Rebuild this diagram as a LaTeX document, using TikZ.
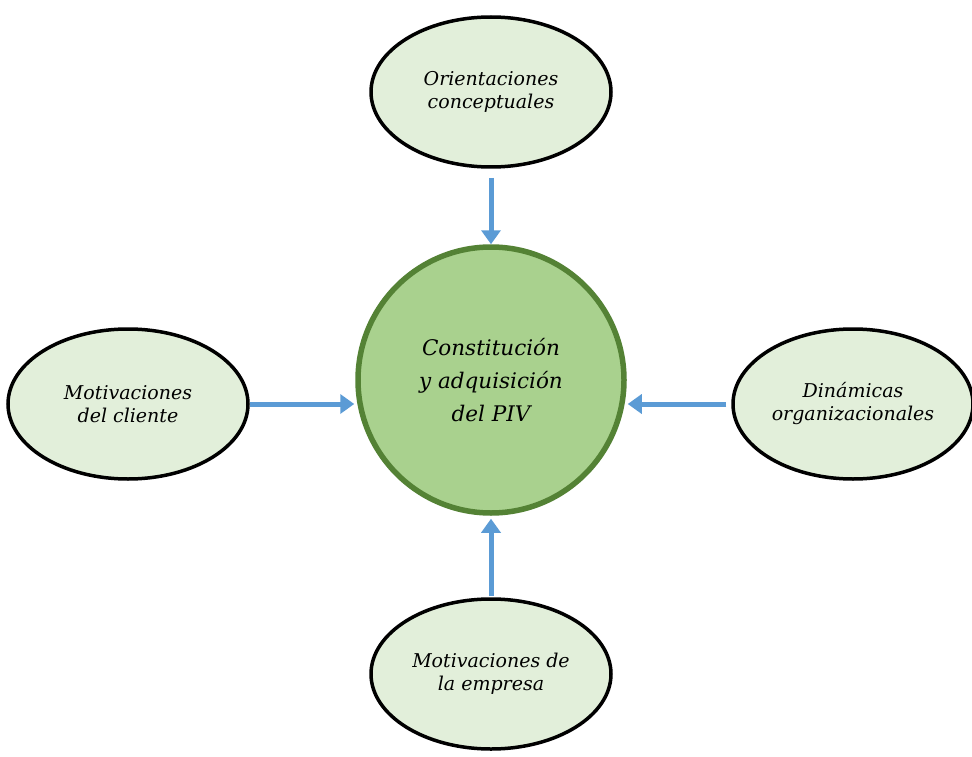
\documentclass[tikz,border=0pt]{standalone}
\usepackage{fontspec}
\setmainfont{DejaVu Serif}
\usetikzlibrary{shapes.geometric}
\usetikzlibrary{arrows.meta}
\definecolor{leafline}{HTML}{548235}
\definecolor{leaffill}{HTML}{A9D18E}
\definecolor{palefill}{HTML}{E2EFDA}
\definecolor{flowblue}{HTML}{5B9BD5}
\tikzset{
  factor/.style={ellipse, draw=black, line width=3.5pt, fill=palefill,
    minimum width=240pt, minimum height=150pt, inner sep=0pt, align=center,
    font=\fontsize{19}{23}\selectfont\itshape},
  hub/.style={circle, draw=leafline, line width=5.5pt, fill=leaffill,
    minimum size=266pt, inner sep=0pt, align=center,
    font=\fontsize{21.5}{33}\selectfont\itshape},
  feed/.style={draw=flowblue, line width=5pt, -{Triangle[width=19pt,length=14pt]}},
}

\begin{document}
\begin{tikzpicture}[x=1pt,y=-1pt]
  \useasboundingbox (0,0) rectangle (972,757);

  \node[hub] (piv) at (491,380) {Constitución\\y adquisición\\del PIV};

  \node[factor] (orient) at (491,92) {Orientaciones\\conceptuales};
  \node[factor] (client) at (128,404) {Motivaciones\\del cliente};
  \node[factor] (dynam) at (853,404) {Dinámicas\\organizacionales};
  \node[factor] (firm) at (491,674) {Motivaciones de\\la empresa};

  \draw[feed, shorten <=9pt] (orient.south) -- (piv.north);
  \draw[feed, shorten >=1pt] (client.east) -- (client.east -| piv.west);
  \draw[feed, shorten <=5pt, shorten >=1pt] (dynam.west) -- (dynam.west -| piv.east);
  \draw[feed, shorten <=1pt, shorten >=3pt] (firm.north) -- (piv.south);
\end{tikzpicture}
\end{document}
